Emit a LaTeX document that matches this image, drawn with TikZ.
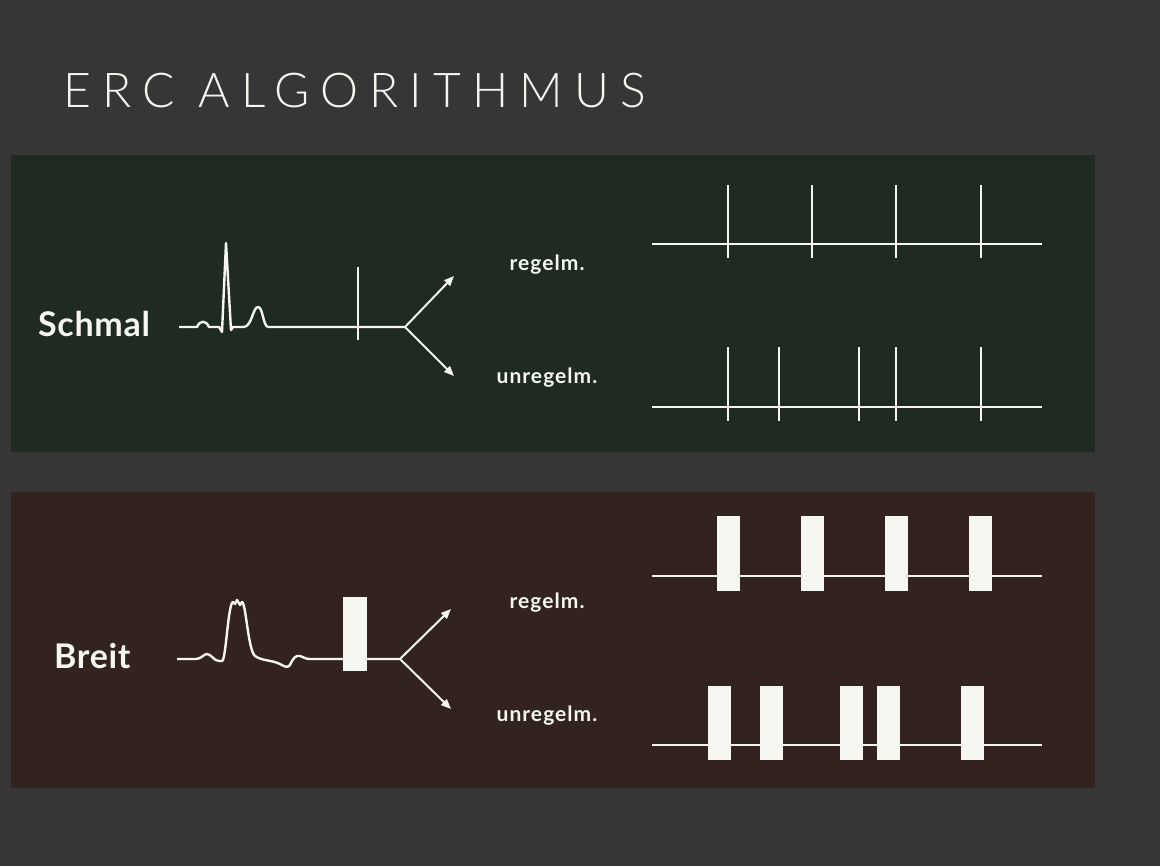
\documentclass[tikz,border=0pt]{standalone}
\usepackage{fontspec}
\setmainfont{Lato}
\newfontfamily\titlefont[LetterSpace=23]{Lato Light}
\newfontfamily\lblfont[LetterSpace=2]{Lato}
\newfontfamily\smallfont[LetterSpace=5]{Lato}
\usetikzlibrary{arrows.meta}
\definecolor{bgc}{RGB}{54,54,54}
\definecolor{greenpanel}{RGB}{31,42,34}
\definecolor{brownpanel}{RGB}{51,35,31}
\definecolor{ink}{RGB}{246,246,240}
\tikzset{
  trace/.style={draw=ink, line width=2.4pt, line join=round},
  tick/.style={draw=ink, line width=2.4pt},
  branch/.style={draw=ink, line width=2pt, -{Triangle[length=10pt,width=8pt]}},
  bar/.style={fill=ink, draw=none},
  lbl/.style={text=ink, font=\lblfont\bfseries\fontsize{34}{38}\selectfont, inner sep=0pt},
  small/.style={text=ink, font=\smallfont\bfseries\fontsize{21}{24}\selectfont, inner sep=0pt},
}
\begin{document}
\begin{tikzpicture}[x=1pt,y=-1pt]
\fill[bgc] (0,0) rectangle (1160,866);
\useasboundingbox (0,0) rectangle (1160,866);
\node[text=ink, font=\titlefont\fontsize{48}{52}\selectfont, anchor=base west, inner sep=0pt] (title) at (63,108) {ERC ALGORITHMUS};
% panels
\fill[greenpanel] (11,155) rectangle (1095,452);
\fill[brownpanel] (11,492) rectangle (1095,788);

% ---------- Schmal ----------
\node[lbl, anchor=base west] (schmal) at (38,337) {Schmal};
\coordinate (s0) at (179,327);
\coordinate (sb) at (405,327);
\draw[trace] (s0) -- (197,327) .. controls (200,320) and (206,320) .. (209,327) -- (219,327)
  -- (222,332) -- (226,243) -- (231,330) -- (233,327) -- (244,327)
  .. controls (252,326) and (253,307) .. (258,307) .. controls (263,307) and (263,326) .. (268,327) -- (sb);
\draw[tick] (358,267) -- (358,340);
\coordinate (sup) at (454,276);
\coordinate (sdn) at (454,376);
\draw[branch] (sb) -- (sup);
\draw[branch] (sb) -- (sdn);
\node[small, anchor=base] (sreg) at (547,271) {regelm.};
\node[small, anchor=base] (sunreg) at (547,384) {unregelm.};
% regular strip
\coordinate (sr0) at (652,244); \coordinate (sr1) at (1042,244);
\draw[tick] (sr0) -- (sr1);
\foreach \x in {728,812,896,981} \draw[tick] (\x,185) -- (\x,258);
% irregular strip
\coordinate (su0) at (652,407); \coordinate (su1) at (1042,407);
\draw[tick] (su0) -- (su1);
\foreach \x in {728,779,859,896,981} \draw[tick] (\x,347) -- (\x,421);

% ---------- Breit ----------
\node[lbl, anchor=base west] (breit) at (54,668) {Breit};
\coordinate (b0) at (177,659);
\coordinate (bb) at (400,659);
\draw[trace] (b0) -- (196,659) .. controls (201,659) and (204,654) .. (207,654)
  .. controls (211,654) and (214,661) .. (219,661) -- (222,661)
  .. controls (226,661) and (228,603) .. (233,602) -- (235,604) -- (237,600) -- (240,605) -- (242,602)
  .. controls (246,603) and (248,650) .. (255,656)
  .. controls (262,661) and (272,660) .. (280,664)
  .. controls (285,667) and (288,668) .. (290,665)
  .. controls (293,658) and (296,655) .. (300,656)
  .. controls (304,657) and (305,659) .. (310,659) -- (bb);
\fill[ink] (343,597) rectangle (367,671);
\coordinate (bup) at (451,609);
\coordinate (bdn) at (451,709);
\draw[branch] (bb) -- (bup);
\draw[branch] (bb) -- (bdn);
\node[small, anchor=base] (breg) at (547,608) {regelm.};
\node[small, anchor=base] (bunreg) at (547,721) {unregelm.};
% regular strip
\coordinate (br0) at (652,576); \coordinate (br1) at (1042,576);
\draw[tick] (br0) -- (br1);
\foreach \x in {717,801,885,969} \fill[ink] (\x,516) rectangle ++(23,75);
% irregular strip
\coordinate (bu0) at (652,745); \coordinate (bu1) at (1042,745);
\draw[tick] (bu0) -- (bu1);
\foreach \x in {708,760,840,877,961} \fill[ink] (\x,686) rectangle ++(23,74);
\end{tikzpicture}
\end{document}
